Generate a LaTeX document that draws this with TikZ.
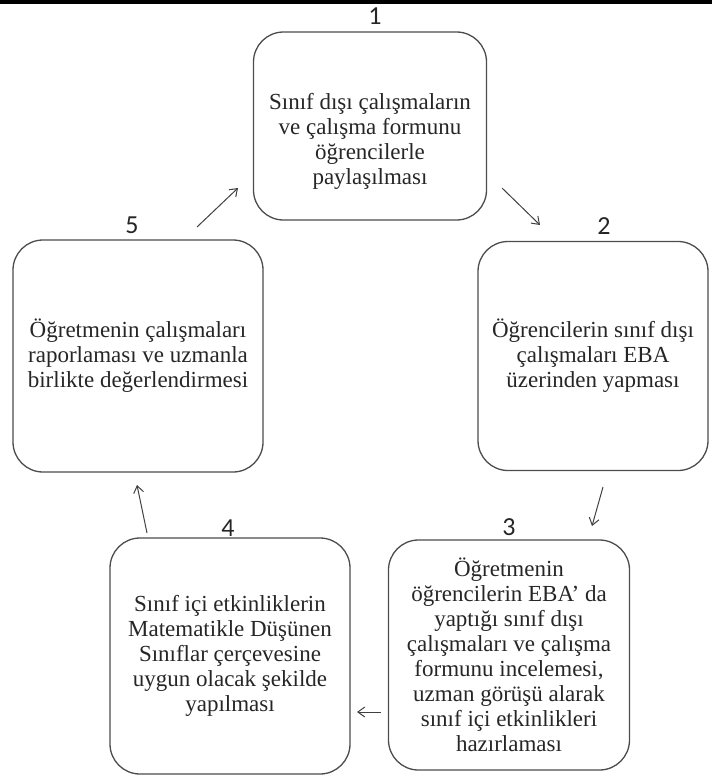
\documentclass[tikz,border=0pt]{standalone}
\usepackage{fontspec}
\setmainfont{Liberation Serif}
\newfontfamily\numfont{Carlito}
\usepackage{tikz}
\usetikzlibrary{arrows.meta}
\tikzstyle{stepbox} = [draw=black!70, line width=1.3pt, rounded corners=30pt, align=center,
    font=\fontsize{23}{25}\selectfont, text=black!85, inner sep=0pt]
\tikzstyle{num} = [font=\numfont\fontsize{26}{26}\selectfont, text=black!85, inner sep=0pt]
\tikzstyle{arrow} = [line width=1pt, black!75, -{Straight Barb[length=7pt,width=10pt]}]

\begin{document}
\begin{tikzpicture}[x=1pt, y=-1pt]
        % Bounding box
        \useasboundingbox (0,0) rectangle (712,776);
        \fill[black] (0,0) rectangle (712,4);

        % Nodes
        \node[stepbox, minimum width=233pt, minimum height=188pt] (s1) at (370,126)
            {\rule{0pt}{46pt}Sınıf dışı çalışmaların\\ve çalışma formunu\\öğrencilerle\\paylaşılması};
        \node[stepbox, minimum width=230pt, minimum height=229pt] (s2) at (593,356)
            {Öğrencilerin sınıf dışı\\çalışmaları EBA\\üzerinden yapması};
        \node[stepbox, minimum width=241pt, minimum height=230pt] (s3) at (509,655)
            {Öğretmenin\\öğrencilerin EBA’ da\\yaptığı sınıf dışı\\çalışmaları ve çalışma\\formunu incelemesi,\\uzman görüşü alarak\\sınıf içi etkinlikleri\\hazırlaması};
        \node[stepbox, minimum width=240pt, minimum height=236pt] (s4) at (230,656)
            {Sınıf içi etkinliklerin\\Matematikle Düşünen\\Sınıflar çerçevesine\\uygun olacak şekilde\\yapılması};
        \node[stepbox, minimum width=250pt, minimum height=232pt] (s5) at (138,356)
            {Öğretmenin çalışmaları\\raporlaması ve uzmanla\\birlikte değerlendirmesi};

        % Step numbers
        \node[num] (n1) at (375,16)  {1};
        \node[num] (n2) at (604,226) {2};
        \node[num] (n3) at (509,527) {3};
        \node[num] (n4) at (228,528) {4};
        \node[num] (n5) at (132,225) {5};

        % Arrow ends
        \coordinate (a12) at (502,188); \coordinate (b12) at (540,225);
        \coordinate (a23) at (603,487); \coordinate (b23) at (592,526);
        \coordinate (a34) at (381,712); \coordinate (b34) at (357,712);
        \coordinate (a45) at (147,533); \coordinate (b45) at (137,485);
        \coordinate (a51) at (197,227); \coordinate (b51) at (238,188);

        % Edges
        \draw[arrow] (a12) -- (b12); % 1 -> 2
        \draw[arrow] (a23) -- (b23); % 2 -> 3
        \draw[arrow] (a34) -- (b34); % 3 -> 4
        \draw[arrow] (a45) -- (b45); % 4 -> 5
        \draw[arrow] (a51) -- (b51); % 5 -> 1

    \end{tikzpicture}
\end{document}
